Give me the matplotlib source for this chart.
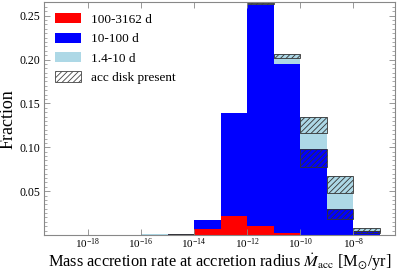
import numpy as np
import matplotlib
matplotlib.use("Agg")
import matplotlib.pyplot as plt
from matplotlib.patches import Patch
from matplotlib.ticker import MultipleLocator, FixedLocator

plt.rcParams['font.family'] = ['Liberation Serif', 'DejaVu Serif']
plt.rcParams['mathtext.fontset'] = 'stix'
plt.rcParams['hatch.linewidth'] = 0.6

# log10 bin edges of the accretion rate [Msun/yr]
log_edges = [-16, -15, -14, -13, -12, -11, -10, -9, -8, -7]
# fraction per period class (stacked: long at bottom)
frac_long = [0.0, 0.0, 0.0065, 0.022, 0.0103, 0.0026, 0.0006, 0.0, 0.0]
frac_mid = [0.0003, 0.0008, 0.0105, 0.117, 0.2523, 0.1926, 0.0972, 0.030, 0.0046]
frac_short = [0.0008, 0.0005, 0.0, 0.0, 0.002, 0.0114, 0.0366, 0.0374, 0.003]
# part of each segment with an accretion disk (drawn at top of segment)
disk_mid = [0.0, 0.0005, 0.0, 0.0, 0.0, 0.0, 0.0198, 0.0121, 0.0026]
disk_short = [0.0, 0.0003, 0.0, 0.0, 0.0013, 0.0053, 0.0183, 0.0191, 0.003]

labels = ['100-3162 d', '10-100 d', '1.4-10 d', 'acc disk present']

edges = 10.0 ** np.array(log_edges, dtype=float)
left = edges[:-1]
width = edges[1:] - edges[:-1]
long_ = np.array(frac_long)
mid = np.array(frac_mid)
short = np.array(frac_short)

fig = plt.figure(figsize=(3.99, 2.73), dpi=100)
ax = fig.add_axes([0.1115, 0.139, 0.8785, 0.852])

ax.bar(left, long_, width=width, align='edge', color='#ff0000', lw=0)
ax.bar(left, mid, width=width, bottom=long_, align='edge', color='#0000ff', lw=0)
ax.bar(left, short, width=width, bottom=long_ + mid, align='edge', color='#add8e6', lw=0)

# hatched overlay for accretion disk part
top_mid = long_ + mid
top_short = long_ + mid + short
dm = np.array(disk_mid)
ds = np.array(disk_short)
for tops, d in ((top_mid, dm), (top_short, ds)):
    m = d > 0
    ax.bar(left[m], d[m], width=width[m], bottom=tops[m] - d[m], align='edge',
           fill=False, hatch='//////', edgecolor='#333333', lw=0.6)

ax.set_xscale('log')
ax.set_xlim(10 ** -19.64, 10 ** -6.42)
ax.set_ylim(0, 0.265)

ax.xaxis.set_major_locator(FixedLocator([1e-18, 1e-16, 1e-14, 1e-12, 1e-10, 1e-8]))
ax.xaxis.set_minor_locator(FixedLocator([]))
ax.yaxis.set_major_locator(FixedLocator([0.05, 0.10, 0.15, 0.20, 0.25]))
ax.yaxis.set_minor_locator(MultipleLocator(0.005))
ax.set_yticklabels(['0.05', '0.10', '0.15', '0.20', '0.25'])

ax.tick_params(which='both', direction='in', top=True, right=True,
               color='#888888', labelsize=8.5, pad=3)
ax.tick_params(which='major', length=4, width=0.6)
ax.tick_params(which='minor', length=2, width=0.5)
ax.tick_params(axis='x', which='major', pad=1, labelsize=8)
for s in ax.spines.values():
    s.set_color('#888888')
    s.set_linewidth(0.8)

ax.set_xlabel(r'Mass accretion rate at accretion radius $\dot{M}_{\mathrm{acc}}$ [M$_{\odot}$/yr]',
              fontsize=11.8, labelpad=0)
ax.set_ylabel('Fraction', fontsize=13, labelpad=2)

handles = [Patch(facecolor='#ff0000', edgecolor='none'),
           Patch(facecolor='#0000ff', edgecolor='none'),
           Patch(facecolor='#add8e6', edgecolor='none'),
           Patch(facecolor='white', edgecolor='#444444', hatch='//////', lw=0.6)]
ax.legend(handles, labels, loc='upper left', frameon=False, fontsize=9.5,
          handlelength=2.0, handleheight=0.8, labelspacing=0.52,
          handletextpad=0.7, borderaxespad=0.4)

fig.savefig('out.png', dpi=100)
